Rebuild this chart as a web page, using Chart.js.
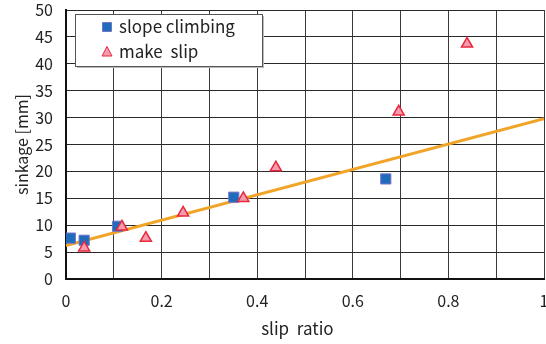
<!DOCTYPE html>
<html>
<head>
<meta charset="utf-8">
<script src="https://cdn.jsdelivr.net/npm/chart.js@4/dist/chart.umd.min.js"></script>
<style>
html,body{margin:0;padding:0;background:#fff;}
#wrap{width:546px;height:344px;position:relative;}
</style>
</head>
<body>
<div id="wrap"><canvas id="c" width="546" height="344"></canvas></div>
<script>
const seriesNames = ['slope climbing', 'make  slip'];
const climbX = [0.009, 0.038, 0.108, 0.351, 0.669];
const climbY = [7.6, 7.2, 9.8, 15.2, 18.6];
const slipX = [0.038, 0.117, 0.167, 0.245, 0.371, 0.439, 0.696, 0.839];
const slipY = [5.8, 9.7, 7.6, 12.3, 15.0, 20.7, 31.1, 43.7];
const trendX = [0, 1];
const trendY = [6.2, 29.8];
const xTickLabels = ['0', '0.2', '0.4', '0.6', '0.8', '1'];
const yTickLabels = ['0','5','10','15','20','25','30','35','40','45','50'];

const FONT = "'Noto Sans CJK JP', 'Noto Sans', sans-serif";
const pts = (xs, ys) => xs.map((x, i) => ({x: x, y: ys[i]}));

const legendPlugin = {
  id: 'insideLegend',
  afterDraw(chart) {
    const ctx = chart.ctx;
    const ca = chart.chartArea;
    const x0 = ca.left + 9, y0 = ca.top + 4, w = 187, h = 52;
    ctx.save();
    ctx.fillStyle = '#bbbbbb';
    ctx.fillRect(x0 + 2, y0 + 2, w, h);
    ctx.fillStyle = '#ffffff';
    ctx.fillRect(x0, y0, w, h);
    ctx.strokeStyle = '#555555';
    ctx.lineWidth = 1;
    ctx.strokeRect(x0 + 0.5, y0 + 0.5, w, h);
    const items = chart.data.datasets.filter(d => d.showInLegend);
    items.forEach((d, i) => {
      const cy = y0 + 13 + i * 25;
      const cx = x0 + 32;
      ctx.fillStyle = d.backgroundColor;
      ctx.strokeStyle = d.borderColor;
      ctx.lineWidth = 1;
      ctx.beginPath();
      if (d.pointStyle === 'rect') {
        ctx.rect(cx - 4.5, cy - 4.5, 9, 9);
      } else {
        ctx.moveTo(cx, cy - 5.5);
        ctx.lineTo(cx + 5, cy + 4);
        ctx.lineTo(cx - 5, cy + 4);
        ctx.closePath();
      }
      ctx.fill();
      ctx.stroke();
      ctx.fillStyle = '#222222';
      ctx.font = '17px ' + FONT;
      ctx.textBaseline = 'middle';
      ctx.textAlign = 'left';
      ctx.fillText(d.label, cx + 12, cy);
    });
    ctx.restore();
  }
};

new Chart(document.getElementById('c'), {
  type: 'scatter',
  data: {
    datasets: [
      {
        label: 'trend',
        type: 'line',
        data: pts(trendX, trendY),
        borderColor: '#f0a428',
        borderWidth: 3,
        pointRadius: 0,
        fill: false,
        order: 3,
        showInLegend: false
      },
      {
        label: seriesNames[0],
        data: pts(climbX, climbY),
        pointStyle: 'rect',
        pointRadius: 7.2,
        backgroundColor: '#1f6cbc',
        borderColor: '#7474c4',
        borderWidth: 1,
        order: 2,
        showInLegend: true
      },
      {
        label: seriesNames[1],
        data: pts(slipX, slipY),
        pointStyle: 'triangle',
        pointRadius: 6.4,
        backgroundColor: '#f49bb0',
        borderColor: '#e8283c',
        borderWidth: 1.5,
        order: 1,
        showInLegend: true
      }
    ]
  },
  options: {
    responsive: false,
    animation: false,
    layout: {autoPadding: false, padding: {top: 10, right: 2, left: 0, bottom: 0}},
    plugins: {legend: {display: false}, tooltip: {enabled: false}},
    scales: {
      x: {
        type: 'linear',
        min: 0, max: 1,
        afterFit(s) { s.height = 65; s.paddingLeft = 0; s.paddingRight = 0; },
        afterBuildTicks(s) { s.ticks = Array.from({length: 11}, (_, i) => ({value: i / 10})); },
        ticks: {
          padding: 12,
          color: '#222',
          font: {family: FONT, size: 16},
          maxRotation: 0,
          autoSkip: false,
          callback: (v, i) => (i % 2 === 0 ? xTickLabels[i / 2] : '')
        },
        grid: {color: '#3a3a3a', lineWidth: 1, drawTicks: false},
        border: {color: '#111', width: 2},
        title: {display: true, text: 'slip  ratio    ', color: '#222', font: {family: FONT, size: 17}, padding: {top: 0, bottom: 5}}
      },
      y: {
        type: 'linear',
        min: 0, max: 50,
        afterFit(s) { s.width = 66; s.paddingTop = 0; s.paddingBottom = 0; },
        afterBuildTicks(s) { s.ticks = yTickLabels.map(t => ({value: Number(t)})); },
        ticks: {
          padding: 13,
          color: '#222',
          font: {family: FONT, size: 16},
          autoSkip: false,
          callback: (v, i) => yTickLabels[i]
        },
        grid: {color: '#2a2a2a', lineWidth: 1, drawTicks: false},
        border: {color: '#111', width: 2},
        title: {display: true, text: 'sinkage [mm]', color: '#222', font: {family: FONT, size: 16}, padding: {top: 12, bottom: 0}}
      }
    }
  },
  plugins: [legendPlugin]
});
</script>
</body>
</html>
